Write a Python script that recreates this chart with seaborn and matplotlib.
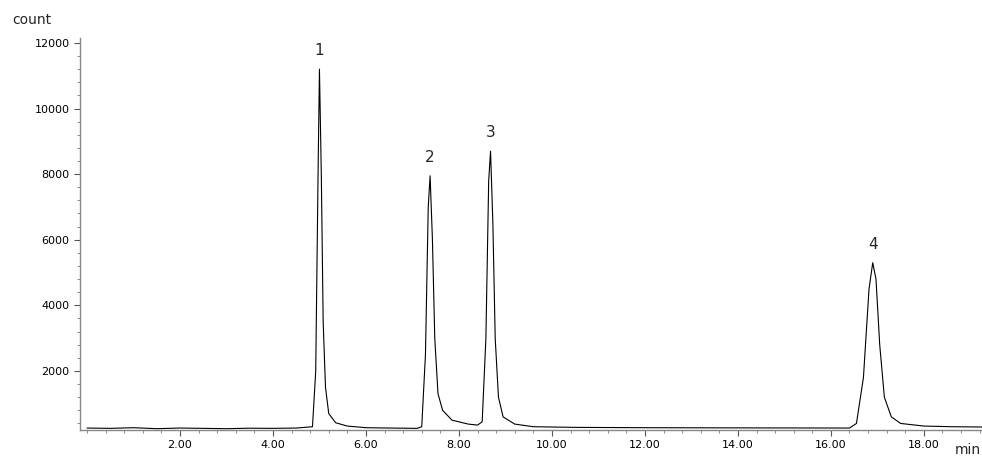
import numpy as np
import pandas as pd
import matplotlib
matplotlib.use("Agg")
import matplotlib.pyplot as plt
import seaborn as sns
from matplotlib.ticker import MultipleLocator

# retention time (min) and detector counts
time_min = [0.0, 0.5, 1.0, 1.5, 2.0, 2.5, 3.0, 3.5, 4.0, 4.5, 4.85,
            4.92, 4.97, 5.0, 5.04, 5.08, 5.13, 5.2, 5.35, 5.6, 6.0, 6.5, 7.1,
            7.2, 7.28, 7.34, 7.38, 7.43, 7.48, 7.55, 7.65, 7.85, 8.2, 8.4,
            8.5, 8.58, 8.64, 8.68, 8.73, 8.78, 8.85, 8.95, 9.2, 9.6, 10.5,
            12.0, 14.0, 16.4,
            16.55, 16.7, 16.82, 16.9, 16.97, 17.05, 17.15, 17.3, 17.5, 18.0,
            18.6, 19.3]
counts = [260, 250, 270, 240, 260, 250, 240, 255, 250, 260, 300,
          2000, 8000, 11200, 8000, 3500, 1500, 700, 420, 320, 270, 260, 250,
          300, 2500, 7000, 7950, 6000, 3000, 1300, 800, 500, 380, 350,
          450, 3000, 7800, 8700, 6500, 3000, 1200, 600, 380, 300, 280,
          270, 265, 260,
          400, 1800, 4500, 5300, 4800, 2800, 1200, 600, 400, 320,
          300, 290]

peak_labels = ["1", "2", "3", "4"]
peak_times = [4.99, 7.37, 8.68, 16.9]
peak_heights = [11200, 7950, 8700, 5300]

y_ticks = [2000, 4000, 6000, 8000, 10000, 12000]
x_ticks = [2, 4, 6, 8, 10, 12, 14, 16, 18]

sns.set_style("ticks")
plt.rcParams["font.family"] = ["DejaVu Sans"]

df = pd.DataFrame({"time": time_min, "count": counts})

fig = plt.figure(figsize=(9.82, 4.57), dpi=100)
ax = fig.add_axes([80 / 982, 27 / 457, 1 - 80 / 982, 392 / 457])
sns.lineplot(data=df, x="time", y="count", ax=ax, color="black", linewidth=0.8)

for lab, t, h in zip(peak_labels, peak_times, peak_heights):
    ax.annotate(lab, (t, h), xytext=(0, 8), textcoords="offset points",
                ha="center", va="bottom", fontsize=11)

ax.set_xlim(-0.15, 19.25)
ax.set_ylim(200, 12150)
ax.set_xticks(x_ticks)
ax.set_xticklabels([f"{v:.2f}" for v in x_ticks])
ax.set_yticks(y_ticks)
ax.xaxis.set_minor_locator(MultipleLocator(0.4))
ax.yaxis.set_minor_locator(MultipleLocator(400))
ax.tick_params(axis="both", which="both", bottom=True, left=True,
               direction="out")
ax.tick_params(axis="both", which="major", length=4, width=0.8, labelsize=8,
               colors="#555555", labelcolor="black")
ax.tick_params(axis="both", which="minor", length=2, width=0.6,
               colors="#777777")
ax.set_xlabel("")
ax.set_ylabel("")
for side in ["top", "right"]:
    ax.spines[side].set_visible(False)
for side in ["left", "bottom"]:
    ax.spines[side].set_color("#888888")
    ax.spines[side].set_linewidth(1.0)

fig.text(12 / 982, 1 - 20 / 457, "count", fontsize=10, va="center")
fig.text(955 / 982, 1 - 450 / 457, "min", fontsize=10, va="center")

fig.savefig("out.png", dpi=100)
